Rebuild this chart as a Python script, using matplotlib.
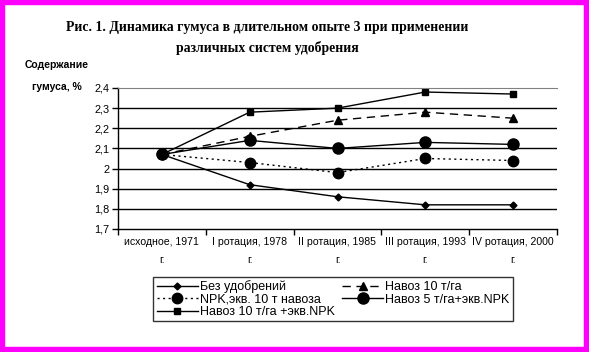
import numpy as np
import matplotlib.pyplot as plt
from matplotlib.patches import Rectangle

# data
categories = ['исходное, 1971\nг.', 'I ротация, 1978\nг.', 'II ротация, 1985\nг.',
              'III ротация, 1993\nг.', 'IV ротация, 2000\nг.']
bez = [2.07, 1.92, 1.86, 1.82, 1.82]
navoz10 = [2.07, 2.16, 2.24, 2.28, 2.25]
npk = [2.07, 2.03, 1.98, 2.05, 2.04]
navoz5_npk = [2.07, 2.14, 2.10, 2.13, 2.12]
navoz10_npk = [2.07, 2.28, 2.30, 2.38, 2.37]
series_names = ['Без удобрений', 'Навоз 10 т/га', 'NPK,экв. 10 т навоза',
                'Навоз 5 т/га+экв.NPK', 'Навоз 10 т/га +экв.NPK']
yticks = [1.7, 1.8, 1.9, 2.0, 2.1, 2.2, 2.3, 2.4]
ytick_labels = ['1,7', '1,8', '1,9', '2', '2,1', '2,2', '2,3', '2,4']

plt.rcParams['font.family'] = ['Liberation Sans', 'DejaVu Sans']

fig = plt.figure(figsize=(5.89, 3.52), dpi=100)
fig.patches.append(Rectangle((0, 0), 1, 1, transform=fig.transFigure, fill=False,
                             edgecolor='#ff00ff', linewidth=7.5))

ax = fig.add_axes([118/589, 1-229/352, 439/589, 141/352])
x = np.arange(len(categories))

l1, = ax.plot(x, bez, color='black', lw=1, marker='D', ms=3.5, label=series_names[0])
l2, = ax.plot(x, navoz10, color='black', lw=1, ls=(0, (6, 4)), marker='^', ms=5.5, label=series_names[1])
l3, = ax.plot(x, npk, color='black', lw=1, ls=(0, (1.5, 2.5)), marker='o', ms=7.5, label=series_names[2])
l4, = ax.plot(x, navoz5_npk, color='black', lw=1, marker='o', ms=8, label=series_names[3])
l5, = ax.plot(x, navoz10_npk, color='black', lw=1, marker='s', ms=4.5, label=series_names[4])

ax.set_xlim(-0.5, len(categories) - 0.5)
ax.set_ylim(1.7, 2.4)
ax.set_yticks(yticks)
ax.set_yticklabels(ytick_labels, fontsize=7.8)
for y in yticks[1:-1]:
    ax.axhline(y, color='black', lw=1, zorder=0)

ax.set_xticks(np.arange(-0.5, len(categories)), labels=[])
ax.set_xticks(x, minor=True)
ax.set_xticklabels(categories, minor=True, fontsize=7.6, linespacing=2.0)
ax.tick_params(axis='x', which='minor', length=0, pad=6)
ax.tick_params(axis='x', which='major', length=4, width=1, direction='out')
ax.tick_params(axis='y', length=4, width=1, direction='out', pad=2)
ax.spines['right'].set_visible(False)
ax.spines['top'].set_color('#808080')
for s in ['left', 'bottom']:
    ax.spines[s].set_color('black')
    ax.spines[s].set_linewidth(1)

fig.text(267/589, 1-28/352, 'Рис. 1. Динамика гумуса в длительном опыте 3 при применении',
         ha='center', va='center', fontsize=9.9, fontweight='bold', family='Liberation Serif')
fig.text(267/589, 1-48/352, 'различных систем удобрения',
         ha='center', va='center', fontsize=9.9, fontweight='bold', family='Liberation Serif')
fig.text(57/589, 1-76/352, 'Содержание\nгумуса, %', ha='center', va='center',
         fontsize=7.5, fontweight='bold', linespacing=2.5)

# column-wise fill so rows read as in the original legend
handles = [l1, l3, l5, l2, l4]
labels = [h.get_label() for h in handles]
leg = fig.legend(handles, labels, loc='upper center', bbox_to_anchor=(333/589, 1-277/352), ncol=2,
                 fontsize=9, frameon=True, fancybox=False, edgecolor='black',
                 handlelength=3.3, handletextpad=0.15, columnspacing=0.6,
                 labelspacing=0.05, borderpad=0.25, borderaxespad=0)
leg.get_frame().set_linewidth(1)

fig.savefig('out.png', dpi=100)
